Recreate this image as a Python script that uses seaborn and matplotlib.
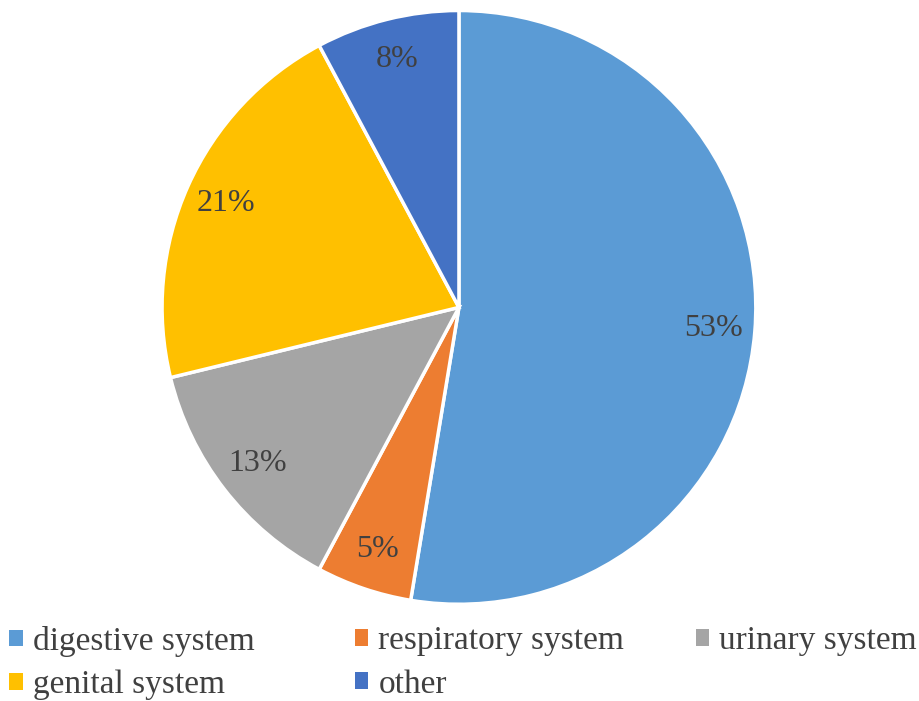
import matplotlib
matplotlib.use("Agg")
import matplotlib.pyplot as plt
import seaborn as sns
from matplotlib.patches import Patch

categories = ["digestive system", "respiratory system", "urinary system", "genital system", "other"]
values = [52.6, 5.2, 13.4, 21.0, 7.8]
colors_hex = ["#5B9BD5", "#ED7D31", "#A5A5A5", "#FFC000", "#4472C4"]

sns.set_theme(style="white")
plt.rcParams['font.family'] = ['Liberation Serif', 'DejaVu Serif']
palette = sns.color_palette(colors_hex)

fig = plt.figure(figsize=(9.2, 7.01), dpi=100)
ax = fig.add_axes([0.176, 0.138, 0.6457, 0.847])
wedges, texts, autotexts = ax.pie(
    values, colors=palette, startangle=90, counterclock=False,
    autopct=lambda p: f"{round(p):d}%", pctdistance=0.86,
    wedgeprops=dict(edgecolor="white", linewidth=2.5),
    textprops=dict(color="#404040", fontsize=23),
)
ax.set_xlim(-1.0, 1.0)
ax.set_ylim(-1.0, 1.0)
ax.set_aspect("equal")
ax.axis("off")

# legend in Excel-like grid: columns
cols = [[0, 3], [1, 4], [2]]
xs = [0.010, 0.386, 0.756]
for xi, idxs in zip(xs, cols):
    handles = [Patch(facecolor=palette[i], edgecolor="none") for i in idxs]
    labels = [categories[i] for i in idxs]
    leg = fig.legend(handles, labels, loc="upper left", bbox_to_anchor=(xi, 0.107),
                     frameon=False, fontsize=24, handlelength=0.4, handleheight=0.4,
                     handletextpad=0.3, borderpad=0, borderaxespad=0, labelspacing=0.38,
                     labelcolor="#404040")

fig.savefig("out.png", dpi=100)
